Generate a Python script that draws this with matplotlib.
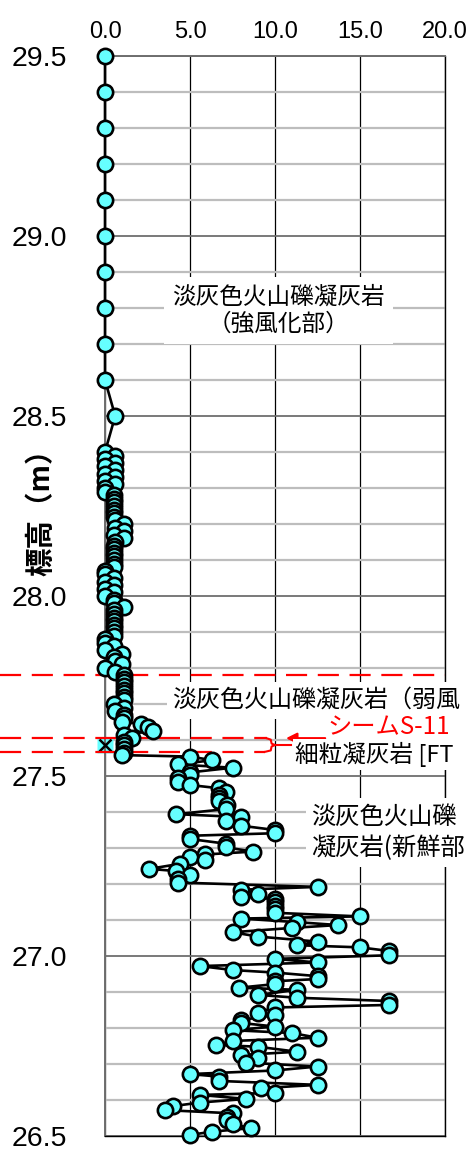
import matplotlib
matplotlib.use("Agg")
import matplotlib.pyplot as plt
from matplotlib.ticker import MultipleLocator

plt.rcParams['font.family'] = ['Noto Sans CJK JP', 'DejaVu Sans']

# ---------------- data ----------------
# strongly weathered part (sparse readings)
elev_top = [29.50, 29.40, 29.30, 29.20, 29.10, 29.00, 28.90, 28.80, 28.70, 28.60, 28.50]
val_top = [0.0, 0.0, 0.0, 0.0, 0.0, 0.0, 0.0, 0.0, 0.0, 0.0, 0.6]

# dense readings 28.40 - 27.56
elev_mid = [28.40, 28.39, 28.38, 28.37, 28.36, 28.35, 28.34, 28.33, 28.32, 28.31,
            28.30, 28.29, 28.28, 28.27, 28.26, 28.25, 28.24, 28.23, 28.22, 28.21,
            28.20, 28.19, 28.18, 28.17, 28.16, 28.15, 28.14, 28.13, 28.12, 28.11,
            28.10, 28.09, 28.08, 28.07, 28.06, 28.05, 28.04, 28.03, 28.02, 28.01,
            28.00, 27.99, 27.98, 27.97, 27.96, 27.95, 27.94, 27.93, 27.92, 27.91,
            27.90, 27.89, 27.88, 27.87, 27.86, 27.85, 27.84, 27.83, 27.82, 27.81,
            27.80, 27.79, 27.78, 27.77, 27.76, 27.75, 27.74, 27.73, 27.72, 27.71,
            27.70, 27.69, 27.68, 27.67, 27.66, 27.65, 27.645, 27.635, 27.625, 27.615,
            27.605, 27.595, 27.585, 27.575, 27.565, 27.558]
val_mid = [0.0, 0.6, 0.0, 0.6, 0.0, 0.6, 0.0, 0.6, 0.0, 0.6,
           0.0, 0.0, 0.5, 0.5, 0.5, 0.5, 0.5, 0.5, 0.5, 0.6,
           1.1, 0.6, 1.1, 0.5, 1.1, 0.6, 0.5, 0.5, 0.5, 0.5,
           0.5, 0.5, 0.5, 0.0, 0.0, 0.5, 0.0, 0.5, 0.0, 0.5,
           0.0, 0.5, 0.5, 1.1, 0.5, 0.5, 0.5, 0.5, 0.5, 0.5,
           0.5, 0.5, 0.0, 0.0, 0.5, 0.0, 1.0, 0.5, 0.6, 1.0,
           0.0, 0.6, 1.1, 1.1, 1.1, 1.1, 1.1, 1.1, 1.1, 1.1,
           0.5, 1.1, 0.6, 1.1, 1.1, 1.0, 2.1, 2.5, 2.8, 1.1,
           1.6, 1.1, 1.1, 1.1, 1.1, 1.0]

# fresh part 27.55 - 26.50
elev_low = [27.554, 27.544, 27.532, 27.523, 27.510, 27.502, 27.494, 27.484, 27.475, 27.466,
            27.456, 27.446, 27.438, 27.430, 27.420, 27.408, 27.394, 27.386, 27.374, 27.362,
            27.350, 27.341, 27.334, 27.325, 27.312, 27.302, 27.290, 27.282, 27.274, 27.266,
            27.256, 27.242, 27.236, 27.224, 27.214, 27.204, 27.192, 27.184, 27.172, 27.165,
            27.158, 27.150, 27.140, 27.130, 27.120, 27.110, 27.104, 27.094, 27.086, 27.078,
            27.066, 27.054, 27.040, 27.030, 27.024, 27.014, 27.002, 26.992, 26.982, 26.972,
            26.961, 26.954, 26.944, 26.936, 26.930, 26.922, 26.912, 26.906, 26.892, 26.884,
            26.875, 26.864, 26.857, 26.843, 26.836, 26.822, 26.814, 26.804, 26.794, 26.786,
            26.773, 26.764, 26.753, 26.748, 26.734, 26.725, 26.716, 26.704, 26.693, 26.682,
            26.672, 26.665, 26.653, 26.642, 26.633, 26.620, 26.614, 26.603, 26.593, 26.583,
            26.572, 26.563, 26.553, 26.545, 26.533, 26.522, 26.512, 26.503]
val_low = [5.0, 6.3, 4.3, 7.5, 5.0, 5.0, 4.3, 4.3, 5.0, 6.7,
           7.1, 6.7, 6.7, 6.7, 7.2, 7.1, 4.2, 8.0, 7.1, 8.0,
           10.0, 10.0, 5.0, 5.0, 7.1, 7.1, 8.7, 5.9, 5.0, 5.9,
           4.4, 2.6, 4.2, 5.0, 4.3, 4.3, 12.5, 8.0, 9.0, 8.0,
           10.0, 10.0, 10.0, 10.0, 10.0, 15.0, 8.0, 11.3, 13.7, 11.0,
           7.5, 9.0, 12.5, 11.3, 15.0, 16.7, 16.7, 10.0, 12.5, 5.6,
           7.5, 10.0, 12.5, 12.5, 10.0, 10.0, 7.9, 11.3, 9.0, 11.3,
           16.7, 16.7, 10.0, 9.0, 10.0, 8.0, 8.0, 10.0, 7.5, 11.0,
           12.5, 7.5, 6.5, 9.0, 11.3, 8.0, 9.0, 8.3, 12.5, 10.0,
           5.0, 6.7, 6.7, 12.5, 9.2, 10.0, 5.6, 8.3, 5.6, 4.0,
           3.5, 7.5, 7.2, 7.2, 7.5, 8.6, 6.3, 5.0]

elevation = elev_top + elev_mid + elev_low
value = val_top + val_mid + val_low

seam_mark_elev = [27.586]
seam_mark_val = [0.0]

boundary_upper = 27.78
seam_top = 27.605
seam_bottom = 27.567

xticks = [0, 5, 10, 15, 20]
xtick_labels = ["0.0", "5.0", "10.0", "15.0", "20.0"]
yticks = [26.5, 27.0, 27.5, 28.0, 28.5, 29.0, 29.5]
ytick_labels = ["26.5", "27.0", "27.5", "28.0", "28.5", "29.0", "29.5"]

# ---------------- figure ----------------
W, H = 471, 1149
fig = plt.figure(figsize=(W / 100, H / 100), dpi=100)
ax = fig.add_axes([105 / W, 1 - 1136 / H, 340 / W, 1080 / H])
ax.set_xlim(0, 20)
ax.set_ylim(26.5, 29.5)

ax.xaxis.tick_top()
ax.set_xticks(xticks, xtick_labels, fontfamily='Liberation Sans', fontsize=17)
ax.set_yticks(yticks, ytick_labels, fontfamily='Liberation Sans', fontsize=20.5)
ax.yaxis.set_minor_locator(MultipleLocator(0.1))
ax.tick_params(axis='x', which='both', length=0, pad=9)
ax.tick_params(axis='y', which='both', length=0, pad=27)

ax.grid(which='minor', axis='y', color='#bdbdbd', lw=1.6, zorder=0)
ax.grid(which='major', axis='y', color='#6e6e6e', lw=1.3, zorder=0)
ax.grid(which='major', axis='x', color='black', lw=0.9, zorder=0)
ax.set_axisbelow(True)

for s in ['left', 'top']:
    ax.spines[s].set_color('#6e6e6e')
    ax.spines[s].set_linewidth(1.4)
for s in ['right', 'bottom']:
    ax.spines[s].set_color('black')
    ax.spines[s].set_linewidth(1.0)

ax.set_ylabel("標高（m）", fontsize=20.5, fontweight='bold')
ax.yaxis.set_label_coords(-0.147, 0.584)

# seam marker (cross on cyan)
ax.plot(seam_mark_val, seam_mark_elev, marker='s', ms=12, mfc='#66FFFF', mec='none',
        ls='none', clip_on=False, zorder=2.5)
ax.plot(seam_mark_val, seam_mark_elev, marker='x', ms=9, mec='black', mew=1.8,
        ls='none', clip_on=False, zorder=2.6)

# red dashed boundary lines
dash = (0, (9.5, 4.8))
ax.plot([-6.2, 20], [boundary_upper, boundary_upper], color='red', lw=1.6, ls=dash,
        clip_on=False, zorder=2.8)
ax.plot([-6.2, 9.5], [seam_top, seam_top], color='red', lw=1.6, ls=dash,
        clip_on=False, zorder=2.8)
ax.plot([-6.2, 9.4], [seam_bottom, seam_bottom], color='red', lw=1.6, ls=dash,
        clip_on=False, zorder=2.8)
# brace
mid = (seam_top + seam_bottom) / 2
ax.plot([9.5, 9.75, 9.8, 10.0, 9.8, 9.75, 9.4],
        [seam_top, seam_top - 0.004, mid + 0.004, mid, mid - 0.004, seam_bottom + 0.004, seam_bottom],
        color='red', lw=1.5, clip_on=False, zorder=2.8)
ax.plot([10.0, 10.95], [mid, mid], color='red', lw=1.5, zorder=2.8)

# data
ax.plot(value, elevation, color='black', lw=1.9, marker='o', ms=11,
        mfc='#66FFFF', mec='black', mew=1.9, clip_on=False, zorder=3)

# labels
box = dict(facecolor='white', edgecolor='none', pad=4)
ax.text(10.2, 28.792, "淡灰色火山礫凝灰岩\n（強風化部）", ha='center', va='center',
        fontsize=17, linespacing=1.25, bbox=dict(facecolor='white', edgecolor='none', pad=6), zorder=5)
ax.text(3.95, 27.711, "淡灰色火山礫凝灰岩（弱風", ha='left', va='center',
        fontsize=17.3, bbox=box, zorder=5)
ax.text(13.1, 27.636, "シームS-11", ha='left', va='center', color='red',
        fontsize=17.5, bbox=dict(facecolor='white', edgecolor='none', pad=1), zorder=5)
ax.annotate('', xy=(10.65, seam_top), xytext=(12.95, seam_top),
            arrowprops=dict(arrowstyle='-|>', color='red', lw=1.6, mutation_scale=16,
                            shrinkA=0, shrinkB=0), zorder=5)
ax.text(11.2, 27.559, "細粒凝灰岩 [FT", ha='left', va='center',
        fontsize=17, bbox=dict(facecolor='white', edgecolor='none', pad=2), zorder=5)
ax.text(12.15, 27.343, "淡灰色火山礫\n凝灰岩(新鮮部", ha='left', va='center',
        fontsize=17.5, linespacing=1.3, bbox=box, zorder=5)

fig.savefig("out.png", dpi=100)
